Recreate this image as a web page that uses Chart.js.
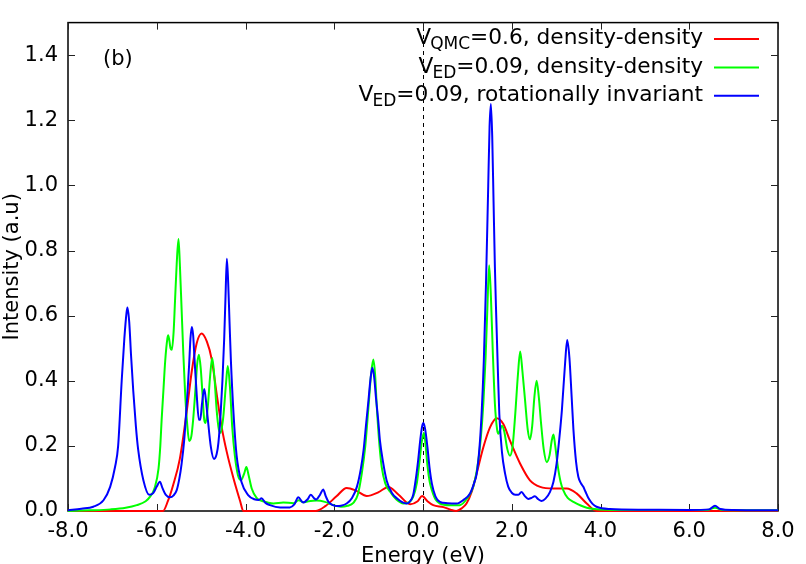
<!DOCTYPE html>
<html><head><meta charset="utf-8">
<script src="https://cdn.jsdelivr.net/npm/chart.js@4/dist/chart.umd.min.js"></script>
<style>html,body{margin:0;padding:0;background:#fff}#wrap{width:806px;height:564px;position:relative}</style>
</head><body><div id="wrap"><canvas id="c" width="806" height="564"></canvas></div>
<script>
// ---- data ----
const energyRed = [-8.0, -6.5, -5.86, -5.75, -5.63, -5.48, -5.33, -5.21, -5.10, -4.99, -4.87, -4.76, -4.65, -4.54, -4.42, -4.27, -4.12, -4.05, -3.0, -2.42, -2.2, -1.95, -1.72, -1.5, -1.27, -1.0, -0.78, -0.55, -0.29, -0.12, -0.02, 0.1, 0.23, 0.46, 0.62, 0.75, 0.87, 0.98, 1.1, 1.21, 1.36, 1.51, 1.66, 1.81, 1.96, 2.19, 2.41, 2.64, 2.94, 3.24, 3.46, 3.69, 3.91, 5.0, 8.0];
const intensityRed = [0, 0, 0, 0.03, 0.08, 0.16, 0.30, 0.43, 0.515, 0.545, 0.52, 0.465, 0.36, 0.26, 0.18, 0.10, 0.03, 0, 0, 0, 0.015, 0.045, 0.071, 0.062, 0.046, 0.058, 0.074, 0.05, 0.021, 0.03, 0.046, 0.03, 0.018, 0.012, 0.004, 0, 0.008, 0.023, 0.06, 0.116, 0.196, 0.257, 0.285, 0.267, 0.216, 0.145, 0.094, 0.074, 0.069, 0.069, 0.054, 0.023, 0, 0, 0];

const energyGreen = [-8.0, -7.5, -7.04, -6.7, -6.45, -6.25, -6.15, -6.05, -5.96, -5.92,
 -5.89, -5.85, -5.81, -5.76, -5.74, -5.69, -5.66, -5.62, -5.59, -5.55,
 -5.51, -5.48, -5.44, -5.40, -5.36, -5.31, -5.27, -5.22, -5.18, -5.13,
 -5.09, -5.05, -5.01, -4.97, -4.93, -4.90, -4.85, -4.80, -4.75, -4.70,
 -4.65, -4.60, -4.56, -4.50, -4.44, -4.40, -4.35, -4.30, -4.24, -4.17,
 -4.10, -4.03, -3.98, -3.93, -3.86, -3.75, -3.67, -3.5, -3.37, -3.15,
 -2.92, -2.80, -2.70, -2.58, -2.40, -2.21, -2.02, -1.85, -1.70, -1.57,
 -1.47, -1.38, -1.30, -1.23, -1.17, -1.12, -1.08, -1.04, -0.98, -0.93,
 -0.85, -0.74, -0.60, -0.44, -0.30, -0.22, -0.14, -0.08, -0.03, 0.02,
 0.06, 0.10, 0.15, 0.20, 0.28, 0.38, 0.6, 0.83, 1.0, 1.13,
 1.22, 1.30, 1.36, 1.41, 1.45, 1.49, 1.53, 1.57, 1.62, 1.67,
 1.70, 1.74, 1.78, 1.83, 1.90, 1.96, 2.02, 2.08, 2.14, 2.19,
 2.24, 2.30, 2.36, 2.41, 2.46, 2.51, 2.56, 2.61, 2.66, 2.72,
 2.79, 2.85, 2.90, 2.94, 2.98, 3.03, 3.10, 3.16, 3.26, 3.39,
 3.69, 4.14, 5.0, 6.4, 6.58, 6.75, 8.0];
const intensityGreen = [0.0, 0.002, 0.005, 0.01, 0.018, 0.03, 0.044, 0.07, 0.13, 0.2,
 0.28, 0.37, 0.46, 0.53, 0.54, 0.5, 0.495, 0.55, 0.64, 0.76,
 0.835, 0.76, 0.62, 0.48, 0.36, 0.26, 0.215, 0.23, 0.28, 0.37,
 0.45, 0.48, 0.44, 0.36, 0.28, 0.27, 0.32, 0.41, 0.47, 0.41,
 0.31, 0.25, 0.24, 0.29, 0.39, 0.445, 0.38, 0.26, 0.17, 0.11,
 0.095, 0.115, 0.135, 0.11, 0.069, 0.04, 0.033, 0.026, 0.023, 0.026,
 0.024, 0.033, 0.027, 0.03, 0.032, 0.028, 0.018, 0.013, 0.016, 0.025,
 0.05, 0.115, 0.2, 0.317, 0.42, 0.465, 0.42, 0.317, 0.2, 0.135,
 0.085, 0.059, 0.035, 0.023, 0.028, 0.044, 0.085, 0.15, 0.21, 0.24,
 0.2, 0.14, 0.09, 0.064, 0.036, 0.023, 0.018, 0.018, 0.04, 0.074,
 0.13, 0.22, 0.33, 0.47, 0.62, 0.755, 0.66, 0.5, 0.33, 0.25,
 0.237, 0.25, 0.262, 0.245, 0.19, 0.17, 0.2, 0.3, 0.42, 0.49,
 0.43, 0.34, 0.25, 0.22, 0.26, 0.35, 0.40, 0.35, 0.27, 0.19,
 0.15, 0.17, 0.215, 0.235, 0.2, 0.145, 0.09, 0.064, 0.04, 0.028,
 0.01, 0.004, 0.003, 0.003, 0.01, 0.003, 0.002];

const energyBlue = [-8.0, -7.7, -7.43, -7.2, -7.05, -6.94, -6.87, -6.79, -6.73, -6.68,
 -6.66, -6.62, -6.58, -6.53, -6.47, -6.42, -6.30, -6.17, -6.08, -6.0,
 -5.93, -5.87, -5.80, -5.70, -5.62, -5.55, -5.49, -5.44, -5.38, -5.34,
 -5.30, -5.27, -5.24, -5.21, -5.18, -5.15, -5.10, -5.05, -5.02, -4.98,
 -4.93, -4.90, -4.86, -4.78, -4.71, -4.65, -4.61, -4.56, -4.52, -4.48,
 -4.45, -4.42, -4.39, -4.36, -4.33, -4.27, -4.20, -4.09, -3.94, -3.80,
 -3.70, -3.64, -3.55, -3.45, -3.22, -3.00, -2.90, -2.81, -2.70, -2.60,
 -2.53, -2.46, -2.41, -2.32, -2.25, -2.19, -2.13, -2.03, -1.94, -1.85,
 -1.72, -1.60, -1.49, -1.40, -1.34, -1.28, -1.23, -1.18, -1.14, -1.10,
 -1.06, -1.01, -0.97, -0.90, -0.82, -0.70, -0.59, -0.47, -0.37, -0.29,
 -0.22, -0.16, -0.11, -0.06, -0.02, 0.01, 0.05, 0.10, 0.15, 0.20,
 0.28, 0.38, 0.55, 0.76, 0.92, 1.06, 1.15, 1.21, 1.27, 1.32,
 1.37, 1.42, 1.47, 1.50, 1.53, 1.56, 1.59, 1.62, 1.65, 1.69,
 1.72, 1.78, 1.85, 1.92, 2.00, 2.08, 2.15, 2.22, 2.30, 2.37,
 2.44, 2.52, 2.60, 2.67, 2.76, 2.86, 2.94, 3.01, 3.07, 3.13,
 3.20, 3.25, 3.30, 3.35, 3.39, 3.45, 3.50, 3.56, 3.61, 3.66,
 3.73, 3.82, 3.91, 4.21, 5.0, 6.0, 6.45, 6.58, 6.70, 7.0,
 8.0];
const intensityBlue = [0.002, 0.007, 0.013, 0.033, 0.074, 0.135, 0.2, 0.40, 0.53, 0.61,
 0.625, 0.58, 0.48, 0.37, 0.26, 0.19, 0.094, 0.05, 0.055, 0.075,
 0.09, 0.07, 0.05, 0.042, 0.048, 0.064, 0.1, 0.145, 0.22, 0.297,
 0.38, 0.45, 0.53, 0.565, 0.54, 0.47, 0.358, 0.28, 0.28, 0.33,
 0.375, 0.35, 0.297, 0.196, 0.16, 0.175, 0.21, 0.3, 0.40, 0.53,
 0.66, 0.775, 0.7, 0.58, 0.465, 0.30, 0.17, 0.089, 0.049, 0.036,
 0.034, 0.039, 0.025, 0.018, 0.011, 0.011, 0.02, 0.042, 0.026, 0.036,
 0.05, 0.04, 0.035, 0.05, 0.066, 0.045, 0.028, 0.018, 0.015, 0.016,
 0.023, 0.04, 0.074, 0.13, 0.186, 0.27, 0.338, 0.41, 0.44, 0.41,
 0.348, 0.28, 0.216, 0.15, 0.094, 0.055, 0.039, 0.027, 0.023, 0.03,
 0.05, 0.1, 0.155, 0.22, 0.26, 0.27, 0.25, 0.196, 0.13, 0.084,
 0.045, 0.028, 0.024, 0.023, 0.035, 0.054, 0.085, 0.115, 0.19, 0.297,
 0.46, 0.70, 1.0, 1.18, 1.25, 1.15, 0.95, 0.75, 0.6, 0.42,
 0.297, 0.18, 0.115, 0.075, 0.056, 0.05, 0.05, 0.058, 0.045, 0.037,
 0.04, 0.045, 0.036, 0.031, 0.038, 0.058, 0.09, 0.145, 0.22, 0.31,
 0.45, 0.525, 0.47, 0.35, 0.25, 0.15, 0.105, 0.085, 0.075, 0.06,
 0.039, 0.022, 0.013, 0.006, 0.004, 0.003, 0.005, 0.016, 0.006, 0.003,
 0.002];

const xTickValues = [-8, -6, -4, -2, 0, 2, 4, 6, 8];
const yTickValues = [0, 0.2, 0.4, 0.6, 0.8, 1.0, 1.2, 1.4];
const seriesMain = ['V', 'V', 'V'];
const seriesSub = ['QMC', 'ED', 'ED'];
const seriesRest = ['=0.6, density-density', '=0.09, density-density', '=0.09, rotationally invariant'];
const seriesColors = ['#ff0000', '#00ff00', '#0000ff'];
const xTitle = 'Energy (eV)';
const yTitle = 'Intensity (a.u)';
const panelLabel = '(b)';

// ---- styling ----
const FAMILY = "'DejaVu Sans', sans-serif";
const FONT = {family: FAMILY, size: 21};

function pts(xs, ys) { return xs.map((e, i) => ({x: e, y: ys[i]})); }
function ds(i, xs, ys, order) {
  return {
    label: seriesMain[i] + seriesSub[i] + seriesRest[i],
    data: pts(xs, ys),
    borderColor: seriesColors[i],
    backgroundColor: seriesColors[i],
    borderWidth: 2,
    pointRadius: 0,
    cubicInterpolationMode: 'monotone',
    fill: false,
    order: order,
    clip: 3
  };
}

const framePlugin = {
  id: 'frame',
  beforeDatasetsDraw(chart) {
    const {ctx, chartArea: a, scales: {x, y}} = chart;
    ctx.save();
    ctx.strokeStyle = '#000';
    const x0 = Math.round(x.getPixelForValue(0)) + 0.5;
    ctx.lineWidth = 1;
    ctx.setLineDash([4, 4]);
    ctx.beginPath(); ctx.moveTo(x0, a.bottom); ctx.lineTo(x0, a.top); ctx.stroke();
    ctx.setLineDash([]);
    ctx.lineWidth = 1.5;
    ctx.strokeRect(a.left, a.top, a.right - a.left, a.bottom - a.top);
    ctx.lineWidth = 1;
    ctx.strokeStyle = '#222';
    const L = 7;
    ctx.beginPath();
    x.ticks.forEach(t => {
      const p = Math.round(x.getPixelForValue(t.value)) + 0.5;
      ctx.moveTo(p, a.bottom); ctx.lineTo(p, a.bottom - L);
      ctx.moveTo(p, a.top); ctx.lineTo(p, a.top + L);
    });
    y.ticks.forEach(t => {
      const p = Math.round(y.getPixelForValue(t.value)) + 0.5;
      ctx.moveTo(a.left, p); ctx.lineTo(a.left + L, p);
      ctx.moveTo(a.right, p); ctx.lineTo(a.right - L, p);
    });
    ctx.stroke();
    ctx.restore();
  },
  afterDraw(chart) {
    const {ctx} = chart;
    ctx.save();
    ctx.fillStyle = '#000';
    ctx.textBaseline = 'alphabetic';
    const rightEdge = 703;
    const mainFont = `21.7px ${FAMILY}`;
    const subFont = `17px ${FAMILY}`;
    for (let i = 0; i < seriesRest.length; i++) {
      const base = 44.3 + i * 28.4;
      ctx.font = mainFont;
      const restW = ctx.measureText(seriesRest[i]).width;
      const vW = ctx.measureText(seriesMain[i]).width;
      ctx.font = subFont;
      const subW = ctx.measureText(seriesSub[i]).width;
      const xRest = rightEdge - restW;
      const xSub = xRest - subW;
      const xV = xSub - vW + 1;
      ctx.font = mainFont;
      ctx.textAlign = 'left';
      ctx.fillText(seriesRest[i], xRest, base);
      ctx.fillText(seriesMain[i], xV, base);
      ctx.font = subFont;
      ctx.fillText(seriesSub[i], xSub, base + 5);
      ctx.strokeStyle = seriesColors[i];
      ctx.lineWidth = 2;
      ctx.beginPath();
      ctx.moveTo(714, base - 5.3); ctx.lineTo(759, base - 5.3);
      ctx.stroke();
    }
    ctx.font = `21px ${FAMILY}`;
    ctx.textBaseline = 'middle';
    ctx.textAlign = 'left';
    ctx.fillText(panelLabel, 103, 60);
    ctx.restore();
  }
};

new Chart(document.getElementById('c'), {
  type: 'line',
  data: {
    datasets: [
      ds(0, energyRed, intensityRed, 3),
      ds(1, energyGreen, intensityGreen, 2),
      ds(2, energyBlue, intensityBlue, 1)
    ]
  },
  options: {
    responsive: false,
    animation: false,
    devicePixelRatio: 1,
    layout: {padding: {top: 19, right: 28, left: 0, bottom: 0}},
    plugins: {legend: {display: false}, tooltip: {enabled: false}},
    scales: {
      x: {
        type: 'linear', min: -8, max: 8,
        afterBuildTicks: s => { s.ticks = xTickValues.map(v => ({value: v})); },
        afterFit: s => { s.height = 53; },
        grid: {display: false, drawTicks: false},
        border: {display: false},
        ticks: {padding: 8, font: FONT, color: '#000', autoSkip: false, maxRotation: 0,
                callback: v => Number(v).toFixed(1)},
        title: {display: true, text: xTitle, font: FONT, color: '#000', padding: {top: 0, bottom: -5}}
      },
      y: {
        type: 'linear', min: 0, max: 1.5,
        afterBuildTicks: s => { s.ticks = yTickValues.map(v => ({value: v})); },
        afterFit: s => { s.width = 68; },
        grid: {display: false, drawTicks: false},
        border: {display: false},
        ticks: {padding: 10, font: FONT, color: '#000', autoSkip: false,
                callback: v => Number(v).toFixed(1)},
        title: {display: true, text: yTitle, font: FONT, color: '#000', padding: {top: 0, bottom: 0}}
      }
    }
  },
  plugins: [framePlugin]
});
</script>
</body></html>
